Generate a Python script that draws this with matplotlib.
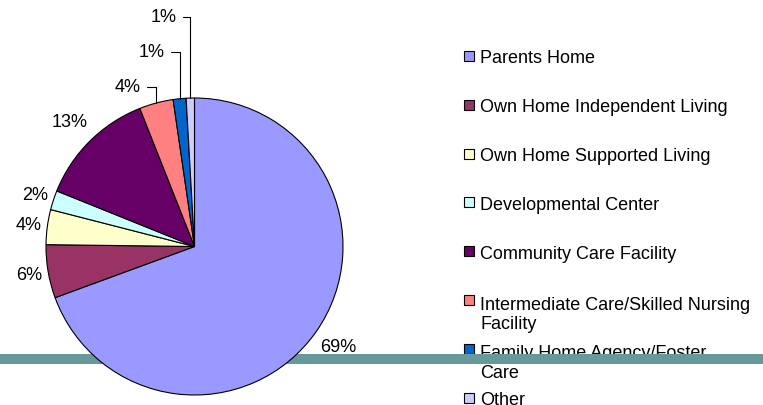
import matplotlib.pyplot as plt
import numpy as np

## Data
categories = ["Parents Home", "Own Home Independent Living", "Own Home Supported Living",
              "Developmental Center", "Community Care Facility",
              "Intermediate Care/Skilled Nursing\nFacility", "Family Home Agency/Foster\nCare",
              "Other"]
shares = [69.4, 5.8, 3.8, 2.1, 12.9, 3.7, 1.4, 0.9]
colors = ["#9999FF", "#993366", "#FFFFCC", "#CCFFFF", "#660066", "#FF8080", "#0066CC", "#CCCCFF"]

plt.rcParams['font.family'] = ['Liberation Sans', 'DejaVu Sans']
plt.rcParams['font.size'] = 13

W, H = 763, 406
fig = plt.figure(figsize=(W / 100, H / 100), dpi=100)
ax = fig.add_axes([0, 0, 1, 1])

# one data unit = pie radius in pixels, pie centre at pixel (cx, cy)
px = 148.5
cx, cy = 194.5, 247.5

def to_data(x, y):
    return ((x - cx) / px, (cy - y) / px)

wedges, _ = ax.pie(shares, colors=colors, startangle=90, counterclock=False,
                   wedgeprops=dict(edgecolor="black", linewidth=0.8))
ax.set_aspect('auto')
ax.set_xlim(-cx / px, (W - cx) / px)
ax.set_ylim(-(H - cy) / px, cy / px)
ax.axis('off')

# teal band behind the pie
y0 = to_data(0, 365)[1]
y1 = to_data(0, 355)[1]
ax.axhspan(y0, y1, color="#669999", zorder=0.9, lw=0)

# percentage labels
label_r = [1.18, 1.13, 1.13, 1.13, 1.19]
for i, r in enumerate(label_r):
    w = wedges[i]
    t = np.deg2rad((w.theta1 + w.theta2) / 2)
    ax.text(r * np.cos(t), r * np.sin(t), "%.0f%%" % shares[i],
            ha='center', va='center', zorder=5)

# small slices with leader lines
leader_pos = {5: (128, 88), 6: (152, 53), 7: (164, 18)}
for i, (lx, ly) in leader_pos.items():
    w = wedges[i]
    t = np.deg2rad((w.theta1 + w.theta2) / 2)
    ax.annotate("%.0f%%" % shares[i], xy=(np.cos(t), np.sin(t)), xytext=to_data(lx, ly),
                ha='center', va='center', zorder=5,
                arrowprops=dict(arrowstyle='-', color='black', lw=0.8, shrinkA=2, shrinkB=0,
                                connectionstyle='angle,angleA=0,angleB=90,rad=0'))

# legend, drawn by hand so rows keep an even pitch
line_h = 21.6
for i, (name, c) in enumerate(zip(categories, colors)):
    ry = 57 + 48.8 * i
    mx, my = to_data(469, ry)
    ax.plot(mx, my, marker='s', markersize=7.2, markerfacecolor=c, markeredgecolor='black',
            markeredgewidth=0.8, linestyle='none', zorder=0.5, clip_on=False)
    # baseline of a multi-line text sits on its last line
    extra = line_h * name.count("\n")
    tx, ty = to_data(480, ry + 6.5 + extra)
    ax.text(tx, ty, name, ha='left', va='baseline', zorder=0.5, linespacing=1.2)

fig.savefig("out.png", dpi=100)
